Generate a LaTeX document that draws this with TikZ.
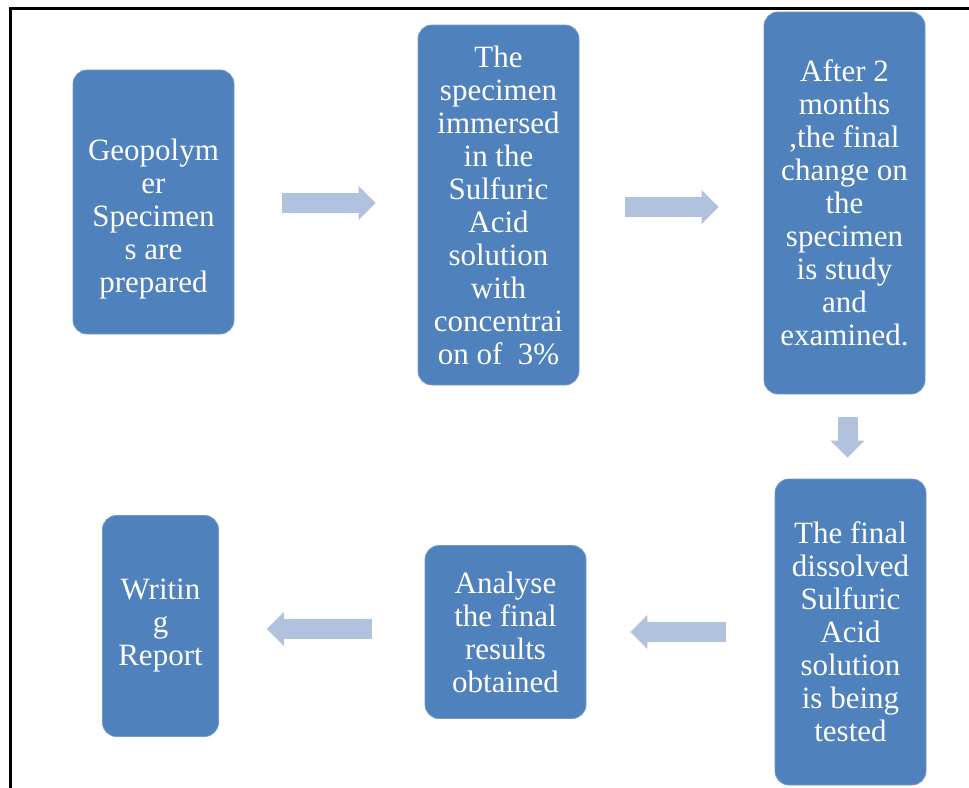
\documentclass[tikz,border=0pt]{standalone}
\usepackage{fontspec}
\setmainfont{Liberation Serif}
\usetikzlibrary{positioning,arrows.meta}
\definecolor{boxblue}{RGB}{79,129,189}
\definecolor{arrblue}{RGB}{176,194,222}
\tikzstyle{r} = [rectangle, rounded corners=14pt, fill=boxblue, draw=boxblue!80!white, line width=0.8pt, text=white, align=center, inner sep=0pt, minimum width=161pt, font=\rmfamily\fontsize{31}{33}\selectfont]
\tikzstyle{t} = [text=white, align=center, font=\rmfamily\fontsize{31}{33}\selectfont]
\tikzstyle{a} = [line width=20pt, draw=arrblue, -{Triangle[length=17pt,width=34pt,line width=0pt]}]

\begin{document}
\begin{tikzpicture}[x=1pt, y=-1pt, node distance=345pt]
		\useasboundingbox (0,0) rectangle (969,787);
		\draw[line width=3pt] (10,800) -- (10,8) -- (990,8);

		\node[r, minimum height=264pt, label={[t, yshift=-17pt]center:Geopolym\\er\\Specimen\\s are\\prepared}](geo) at (153.5,202) {};
		\node[r, minimum height=360pt, right of=geo, yshift=-3pt](spec){The\\specimen\\immersed\\in the\\Sulfuric\\Acid\\solution\\with\\concentrai\\on of~~3\%};
		\node[r, minimum height=382pt, right of=spec, xshift=1pt, yshift=2pt](exam){After 2\\months\\,the final\\change on\\the\\specimen\\is study\\and\\examined.};
		\node[r, minimum height=306pt, minimum width=151pt, below of=exam, xshift=6pt, yshift=-84pt](test){The final\\dissolved\\Sulfuric\\Acid\\solution\\is being\\tested};
		\node[r, minimum height=173pt, left of=test](anal){Analyse\\the final\\results\\obtained};
		\node[r, minimum height=221pt, minimum width=116pt, left of=anal, yshift=6pt](rep){Writin\\g\\Report};

		\draw[a]([xshift=48pt, yshift=-1pt]geo.east)--([xshift=-42pt, yshift=2pt]spec.west);
		\draw[a]([xshift=46pt, yshift=-2pt]spec.east)--([xshift=-45pt, yshift=-4pt]exam.west);
		\draw[a]([xshift=3pt, yshift=-23pt]exam.south)--([xshift=-3pt, yshift=21pt]test.north);
		\draw[a]([xshift=-49pt]test.west)--([xshift=44pt]anal.east);
		\draw[a]([xshift=-53pt, yshift=3pt]anal.west)--([xshift=48pt, yshift=-3pt]rep.east);
	\end{tikzpicture}
\end{document}
